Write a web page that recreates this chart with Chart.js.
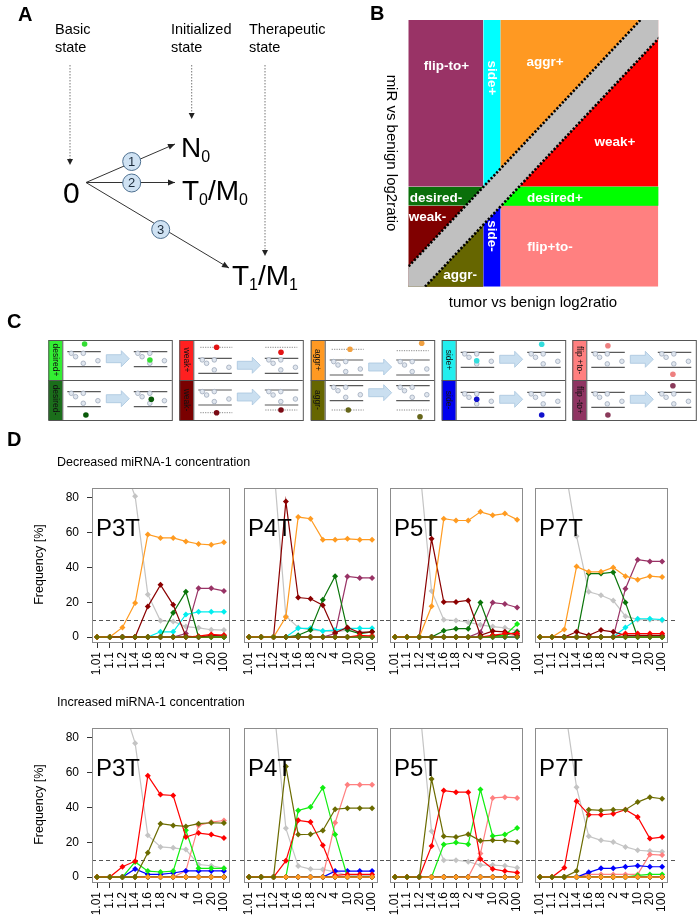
<!DOCTYPE html>
<html>
<head>
<meta charset="utf-8">
<title>miRNA-1 state transitions</title>
<script src="https://cdn.jsdelivr.net/npm/chart.js@4.4.1/dist/chart.umd.min.js"></script>
<style>
  html, body { margin: 0; padding: 0; background: #fff; }
  #page { position: relative; width: 699px; height: 923px; overflow: hidden; }
  #sketch { position: absolute; left: 0; top: 0; }
  .panel { position: absolute; }
</style>
</head>
<body>
<div id="page">
  <canvas id="sketch" width="699" height="923"></canvas>
</div>
<script>
// ---- panel D data ----
const thresholds = ['1.01', '1.1', '1.2', '1.4', '1.6', '1.8', '2', '4', '10', '20', '100'];
const freqTicks = [0, 20, 40, 60, 80];

// draw order: the first key ends up on top
const stateKeys = ['aggrMinus', 'aggrPlus', 'weakPlus', 'weakMinus', 'desPlus', 'desMinus',
                   'sidePlus', 'sideMinus', 'flipPlusToMinus', 'flipMinusToPlus', 'other'];
const stateColors = {
  aggrMinus: '#6b6b00', aggrPlus: '#ff9b21', weakPlus: '#ff0000', weakMinus: '#8b0000',
  desPlus: '#11ee11', desMinus: '#0a750a', sidePlus: '#00eeee', sideMinus: '#0000ff',
  flipPlusToMinus: '#ff8080', flipMinusToPlus: '#993366', other: '#c4c4c4'
};

// Decreased miRNA-1 concentration
const decP3T = {
  other:           [100, 100, 100, 81, 24.5, 9.3, 9, 6, 5.3, 4.2, 4],
  aggrPlus:        [0, 0, 5.5, 19.5, 59, 57, 57, 55, 53.5, 53, 54.5],
  weakMinus:       [0, 0, 0, 0, 17.5, 30, 18.5, 0.5, 0, 1, 1],
  desMinus:        [0, 0, 0, 0, 0, 0, 14, 26, 0, 0, 0],
  flipMinusToPlus: [0, 0, 0, 0, 0, 0, 0, 2, 28, 28, 26.5],
  sidePlus:        [0, 0, 0, 0, 0, 3, 3, 13, 14.5, 14.5, 14.5],
  weakPlus:        [0, 0, 0, 0, 0, 0, 0, 0, 0.5, 1.5, 1],
  desPlus:         [0, 0, 0, 0, 0, 0, 0, 0, 0, 0, 0],
  sideMinus:       [0, 0, 0, 0, 0, 0, 0, 0, 0, 0, 0],
  flipPlusToMinus: [0, 0, 0, 0, 0, 0, 0, 0, 0, 0, 0],
  aggrMinus:       [0, 0, 0, 0, 0, 0, 0, 0, 0, 0, 0]
};
const decP4T = {
  other:           [100, 100, 100, 12, 5.5, 4, 3.5, 3, 4, 3, 3],
  aggrPlus:        [0, 0, 0, 11.5, 69, 68, 56, 56, 56.5, 56, 56],
  weakMinus:       [0, 0, 0, 78, 22.7, 22, 18.3, 2.5, 5.5, 2.5, 3],
  desMinus:        [0, 0, 0, 0, 1, 4, 21.5, 35, 4, 2, 3],
  flipMinusToPlus: [0, 0, 0, 0, 0, 0, 0, 2, 34.8, 34, 34],
  sidePlus:        [0, 0, 0, 0, 5, 5, 3.5, 4, 5, 5, 5],
  weakPlus:        [0, 0, 0, 0, 0, 0, 0, 0, 0, 1, 0.5],
  desPlus:         [0, 0, 0, 0, 0, 0, 0, 0, 0, 0, 0],
  sideMinus:       [0, 0, 0, 0, 0, 0, 0, 0, 0, 0, 0],
  flipPlusToMinus: [0, 0, 0, 0, 0, 0, 0, 0, 0, 0, 1],
  aggrMinus:       [0, 0, 0, 0, 0, 0, 0, 0, 0, 0, 0]
};
const decP5T = {
  other:           [100, 100, 100, 26.5, 10, 9.5, 8.5, 7, 6, 5.3, 3.5],
  aggrPlus:        [0, 0, 0, 17.7, 68, 67, 67, 72, 70, 71, 67.5],
  weakMinus:       [0, 0, 0, 56.5, 20.2, 20.2, 21, 1, 3.4, 3, 1],
  desMinus:        [0, 0, 0, 0, 3.6, 4.8, 4.8, 19.8, 1, 1, 3],
  flipMinusToPlus: [0, 0, 0, 0, 0, 0, 0, 2.7, 19.8, 19, 17],
  sidePlus:        [0, 0, 0, 0, 0, 0, 0, 0, 0, 0, 0],
  weakPlus:        [0, 0, 0, 0, 0, 0, 0, 0, 1, 2, 2],
  desPlus:         [0, 0, 0, 0, 0, 0, 0, 0, 0, 1, 7.5],
  sideMinus:       [0, 0, 0, 0, 0, 0, 0, 0, 0, 0, 0],
  flipPlusToMinus: [0, 0, 0, 0, 0, 0, 0, 0, 0, 0, 1],
  aggrMinus:       [0, 0, 0, 0, 0, 0, 0, 0, 0, 0, 0]
};
const decP7T = {
  other:           [100, 100, 100, 58, 26, 24, 21, 12, 10, 10, 9.5],
  aggrPlus:        [0, 0, 4.4, 40.5, 37.5, 37.5, 40, 35, 33, 35, 34.5],
  weakMinus:       [0, 0, 0, 3, 1, 4, 3, 1, 1, 1, 1],
  desMinus:        [0, 0, 0, 0, 36.5, 36.5, 37.3, 19.8, 0, 0, 0],
  flipMinusToPlus: [0, 0, 0, 0, 0, 0, 0, 27.8, 44.5, 43.5, 43.5],
  sidePlus:        [0, 0, 0, 0, 0, 0, 0, 5.5, 10.5, 10.5, 10],
  weakPlus:        [0, 0, 0, 0, 0, 0, 0, 2, 2, 2, 2],
  desPlus:         [0, 0, 0, 0, 0, 0, 0, 0, 0, 0, 0],
  sideMinus:       [0, 0, 0, 0, 0, 0, 0, 0, 0, 0, 0],
  flipPlusToMinus: [0, 0, 0, 0, 0, 0, 0, 0, 0, 0, 0],
  aggrMinus:       [0, 0, 0, 0, 0, 0, 0, 0, 0, 0, 0]
};

// Increased miRNA-1 concentration
const incP3T = {
  other:           [100, 100, 100, 77, 24, 17.3, 16.8, 15.8, 7.2, 6.5, 5],
  weakPlus:        [0, 0, 5.9, 9.1, 58.3, 47.4, 46.9, 23, 25.3, 24.4, 22.5],
  aggrMinus:       [0, 0, 0, 0, 13.9, 30.7, 29.7, 29.1, 30.7, 31.2, 31],
  desPlus:         [0, 0, 0, 8.7, 3.4, 2.9, 3.4, 26.9, 5, 5, 5],
  sideMinus:       [0, 0, 0, 4.6, 1.5, 1.5, 2.3, 3.5, 3.5, 3.5, 3.5],
  flipPlusToMinus: [0, 0, 0, 0, 0, 0, 0, 3.5, 29.7, 31.6, 32.5],
  aggrPlus:        [0, 0, 0, 0, 0, 0, 0, 0, 0, 0, 0],
  weakMinus:       [0, 0, 0, 0, 0, 0, 0, 0, 0, 0, 0],
  desMinus:        [0, 0, 0, 0, 0, 0, 0, 0, 0, 0, 0],
  sidePlus:        [0, 0, 0, 0, 0, 0, 0, 0, 0, 0, 0],
  flipMinusToPlus: [0, 0, 0, 0, 0, 0, 0, 0, 0, 0, 0]
};
const incP4T = {
  other:           [100, 100, 100, 28, 6.3, 4.6, 4.4, 3, 1, 1, 1],
  weakPlus:        [0, 0, 0, 9.3, 32.6, 31.6, 18.3, 1, 1.5, 1.5, 1.5],
  aggrMinus:       [0, 0, 0, 63.6, 24.4, 24.6, 26.7, 39, 39.6, 39.6, 39.6],
  desPlus:         [0, 0, 0, 0, 38.3, 40.2, 51.4, 24.4, 0, 0, 0],
  sideMinus:       [0, 0, 0, 0, 0, 0, 0, 3.4, 3.4, 3.4, 3.4],
  flipPlusToMinus: [0, 0, 0, 0, 0, 0, 0, 31.2, 53.1, 53.1, 53.1],
  aggrPlus:        [0, 0, 0, 0, 0, 0, 0, 0, 0, 0, 0],
  weakMinus:       [0, 0, 0, 0, 0, 0, 0, 0, 0, 0, 0],
  desMinus:        [0, 0, 0, 0, 0, 0, 0, 0, 0, 0, 0],
  sidePlus:        [0, 0, 0, 0, 0, 0, 0, 0, 0, 0, 0],
  flipMinusToPlus: [0, 0, 0, 0, 0, 0, 0, 0, 0, 0, 0]
};
const incP5T = {
  other:           [100, 100, 100, 26.3, 9.7, 9.7, 8.8, 6.9, 6.9, 6.5, 5.3],
  weakPlus:        [0, 0, 0, 17.9, 49.7, 48.8, 48.8, 10.3, 4.6, 3.4, 2.5],
  aggrMinus:       [0, 0, 0, 56.4, 23.4, 23, 24.6, 20.8, 21.1, 21, 20.2],
  desPlus:         [0, 0, 0, 0, 18.7, 19.8, 18.9, 50.3, 23.6, 24.4, 28.2],
  sideMinus:       [0, 0, 0, 0, 0, 0, 0, 0, 0, 0, 0],
  flipPlusToMinus: [0, 0, 0, 0, 0, 0, 0, 13.5, 45.5, 45.9, 45.5],
  aggrPlus:        [0, 0, 0, 0, 0, 0, 0, 0, 0, 0, 0],
  weakMinus:       [0, 0, 0, 0, 0, 0, 0, 0, 0, 0, 0],
  desMinus:        [0, 0, 0, 0, 0, 0, 0, 0, 0, 0, 0],
  sidePlus:        [0, 0, 0, 0, 0, 0, 0, 0, 0, 0, 0],
  flipMinusToPlus: [0, 0, 0, 0, 0, 0, 0, 0, 0, 0, 0]
};
const incP7T = {
  other:           [100, 100, 100, 51.6, 23.4, 21.1, 20.2, 17.3, 15.4, 14.9, 14.5],
  weakPlus:        [0, 0, 5.3, 43.6, 35.8, 35.8, 36.4, 38.7, 34.5, 22.1, 23],
  aggrMinus:       [0, 0, 0, 3.4, 38.7, 38.3, 38.7, 38.7, 43.1, 45.9, 45],
  desPlus:         [0, 0, 0, 0, 0, 0, 0, 0, 1, 1.5, 1.5],
  sideMinus:       [0, 0, 0, 0, 2.7, 5, 5, 5.9, 6.5, 5.9, 5.9],
  flipPlusToMinus: [0, 0, 0, 0, 1.5, 1.5, 1.5, 1.5, 1.5, 13, 12.6],
  aggrPlus:        [0, 0, 0, 0, 0, 0, 0, 0, 0, 0, 0],
  weakMinus:       [0, 0, 0, 0, 0, 0, 0, 0, 0, 0, 0],
  desMinus:        [0, 0, 0, 0, 0, 0, 0, 0, 0, 0, 0],
  sidePlus:        [0, 0, 0, 0, 0, 0, 0, 0, 0, 0, 0],
  flipMinusToPlus: [0, 0, 0, 0, 0, 0, 0, 0, 0, 0, 0]
};

const FONT = '"Liberation Sans", Arial, sans-serif';
const page = document.getElementById('page');
const sketch = document.getElementById('sketch');
const ctx = sketch.getContext('2d');

function text(s, x, y, size, o = {}) {
  ctx.save();
  ctx.font = (o.bold ? 'bold ' : '') + size + 'px ' + FONT;
  ctx.fillStyle = o.color || '#000';
  ctx.textAlign = o.align || 'left';
  ctx.textBaseline = o.base || 'alphabetic';
  ctx.translate(x, y);
  if (o.rot) ctx.rotate(o.rot);
  ctx.fillText(s, 0, 0);
  ctx.restore();
}

function arrowHead(x1, y1, x2, y2, len, half, color) {
  const a = Math.atan2(y2 - y1, x2 - x1);
  ctx.save();
  ctx.fillStyle = color;
  ctx.translate(x2, y2);
  ctx.rotate(a);
  ctx.beginPath();
  ctx.moveTo(0, 0);
  ctx.lineTo(-len, -half);
  ctx.lineTo(-len, half);
  ctx.closePath();
  ctx.fill();
  ctx.restore();
}

// ---- panel A: state scheme ----
function drawA() {
  text('A', 18, 21, 20, { bold: true });
  text('Basic', 55, 33.5, 14.5);
  text('state', 55, 51.5, 14.5);
  text('Initialized', 171, 33.5, 14.5);
  text('state', 171, 51.5, 14.5);
  text('Therapeutic', 249, 33.5, 14.5);
  text('state', 249, 51.5, 14.5);

  // dotted pointers from the state names
  [[70, 65, 165], [191.7, 65, 119], [265, 65, 256]].forEach(([x, y0, y1]) => {
    ctx.save();
    ctx.strokeStyle = '#777';
    ctx.lineWidth = 1;
    ctx.setLineDash([1.5, 1.5]);
    ctx.beginPath();
    ctx.moveTo(x, y0);
    ctx.lineTo(x, y1 - 4);
    ctx.stroke();
    ctx.restore();
    arrowHead(x, y0, x, y1, 6, 3, '#222');
  });

  text('0', 63, 203, 30);

  const from = [86, 182.5];
  const ends = [[175, 144], [175, 182.5], [229, 268]];
  ends.forEach(([x, y]) => {
    ctx.save();
    ctx.strokeStyle = '#333';
    ctx.lineWidth = 1;
    ctx.beginPath();
    ctx.moveTo(from[0], from[1]);
    ctx.lineTo(x, y);
    ctx.stroke();
    ctx.restore();
    arrowHead(from[0], from[1], x, y, 7, 3, '#222');
  });

  [[131.7, 161.5, '1'], [131.7, 183, '2'], [160.7, 229.5, '3']].forEach(([x, y, n]) => {
    ctx.save();
    ctx.fillStyle = '#cfe2f3';
    ctx.strokeStyle = '#4d6f8f';
    ctx.lineWidth = 1;
    ctx.beginPath();
    ctx.arc(x, y, 9, 0, Math.PI * 2);
    ctx.fill();
    ctx.stroke();
    ctx.restore();
    text(n, x, y + 0.5, 13, { align: 'center', base: 'middle', color: '#1b2a3a' });
  });

  // state labels with subscripts
  const sub = (parts, x, y) => {
    let cx = x;
    parts.forEach(([s, small]) => {
      ctx.font = (small ? 16 : 28) + 'px ' + FONT;
      const w = ctx.measureText(s).width;
      text(s, cx, small ? y + 5 : y, small ? 16 : 28);
      cx += w;
    });
  };
  sub([['N'], ['0', 1]], 181, 156.5);
  sub([['T'], ['0', 1], ['/M'], ['0', 1]], 182, 200);
  sub([['T'], ['1', 1], ['/M'], ['1', 1]], 232, 285);
}

// ---- panel B: region map ----
function drawB() {
  const L = 408.3, T = 20, R = 658.3, B = 286.7;
  const xa = 483.3, xb = 500.7, ya = 186.7, yb = 205.7;
  const k = 1.063;
  const up = x => 266.7 - k * (x - L);
  const lo = x => 304.5 - k * (x - L);
  const mid = x => (up(x) + lo(x)) / 2;
  const ea = L - 60, eb = R + 60;

  text('B', 370, 20, 20, { bold: true });

  function block(color, x0, y0, x1, y1, side) {
    ctx.save();
    ctx.beginPath();
    ctx.rect(x0, y0, x1 - x0, y1 - y0);
    ctx.clip();
    ctx.fillStyle = color;
    if (!side) {
      ctx.fillRect(x0, y0, x1 - x0, y1 - y0);
    } else {
      const yy = side === 'above' ? T - 80 : B + 80;
      ctx.beginPath();
      ctx.moveTo(ea, mid(ea));
      ctx.lineTo(eb, mid(eb));
      ctx.lineTo(eb, yy);
      ctx.lineTo(ea, yy);
      ctx.closePath();
      ctx.fill();
    }
    ctx.restore();
  }

  block('#993366', L, T, xa, ya);
  block('#00ffff', xa, T, xb, ya);
  block('#ff0000', xb, T, R, ya);
  block('#ff9922', xb, T, R, ya, 'above');
  block('#0a6f0a', L, ya, R, yb);
  block('#00ff00', L, ya, R, yb, 'below');
  block('#800000', L, yb, xa, B);
  block('#666600', L, yb, xa, B, 'below');
  block('#0000ff', xa, yb, xb, B);
  block('#ff8080', xb, yb, R, B);

  ctx.save();
  ctx.beginPath();
  ctx.rect(L, T, R - L, B - T);
  ctx.clip();
  ctx.fillStyle = '#c0c0c0';
  ctx.beginPath();
  ctx.moveTo(ea, up(ea));
  ctx.lineTo(eb, up(eb));
  ctx.lineTo(eb, lo(eb));
  ctx.lineTo(ea, lo(ea));
  ctx.closePath();
  ctx.fill();
  ctx.strokeStyle = '#000';
  ctx.lineWidth = 2.6;
  ctx.setLineDash([2.2, 1.8]);
  [up, lo].forEach(f => {
    ctx.beginPath();
    ctx.moveTo(ea, f(ea));
    ctx.lineTo(eb, f(eb));
    ctx.stroke();
  });
  ctx.restore();

  const w = { bold: true, color: '#fff', align: 'center', base: 'middle' };
  text('flip-to+', 446.5, 66.5, 13.5, w);
  text('aggr+', 545, 62, 13.5, w);
  text('weak+', 615, 142, 13.5, w);
  text('desired-', 436, 198, 13.5, w);
  text('desired+', 555, 198, 13.5, w);
  text('weak-', 427.5, 217, 13.5, w);
  text('flip+to-', 550, 247, 13.5, w);
  text('aggr-', 460, 275, 13.5, w);
  text('side+', 492, 78, 13.5, Object.assign({}, w, { rot: Math.PI / 2 }));
  text('side-', 492, 236, 13.5, Object.assign({}, w, { rot: Math.PI / 2 }));

  text('miR vs benign log2ratio', 391.5, 153, 15, { align: 'center', base: 'middle', rot: Math.PI / 2 });
  text('tumor vs benign log2ratio', 533, 307, 15, { align: 'center' });
}

// ---- panel C: transition sketches ----
const transitionBoxes = [
  { x: 48.3, names: ['desired+', 'desired-'], strip: ['#33ee33', '#1b6e1b'], dot: ['#33dd33', '#0a5a0a'],
    rows: [{ u: 11.7, dl: [22.3, 4], dr: [87.6, 20] },
           { u: 11.7, dl: [23.6, 35], dr: [89, 19.3] }] },
  { x: 179.3, names: ['weak+', 'weak-'], strip: ['#ff2020', '#7a0000'], dot: ['#e31414', '#7a0a14'],
    rows: [{ u: 18.3, dl: [23.3, 7.3], dr: [87.7, 12.3], lineL: 7.3, lineR: 7.3 },
           { u: 10, dl: [23.3, 32.7], dr: [87.7, 30], lineL: 32.7, lineR: 30 }] },
  { x: 310.7, names: ['aggr+', 'aggr-'], strip: ['#ff9922', '#666600'], dot: ['#f0a040', '#66661a'],
    rows: [{ u: 20, dl: [25.3, 9.3], dr: [97, 3.3], lineL: 9.3, lineR: 10.7 },
           { u: 5.7, dl: [23.6, 30], dr: [95.3, 36.7], lineL: 30, lineR: 30 }] },
  { x: 441.7, names: ['side+', 'side-'], strip: ['#22eeee', '#0000ee'], dot: ['#33dddd', '#1111cc'],
    rows: [{ u: 12.3, dl: [21, 20.7], dr: [86, 4.3] },
           { u: 12.3, dl: [21, 19.3], dr: [86, 35] }] },
  { x: 572.3, names: ['flip +to-', 'flip -to+'], strip: ['#ff7f7f', '#8f3462'], dot: ['#ee8080', '#8a3a5a'],
    rows: [{ u: 12.3, dl: [21.6, 5.7], dr: [86.6, 34.3] },
           { u: 12.3, dl: [21.6, 35], dr: [86.6, 5.7] }] }
];

function miniState(ox, uy) {
  ctx.save();
  ctx.strokeStyle = '#5a5a5a';
  ctx.lineWidth = 1.2;
  ctx.beginPath();
  ctx.moveTo(ox, uy); ctx.lineTo(ox + 33.5, uy);
  ctx.moveTo(ox, uy + 15); ctx.lineTo(ox + 33.5, uy + 15);
  ctx.stroke();
  ctx.fillStyle = '#e0e6ee';
  ctx.strokeStyle = '#9eaabb';
  ctx.lineWidth = 0.8;
  [[4, 1.6], [8.3, 5], [16, 1.6], [16, 11.6], [30.6, 9]].forEach(([dx, dy]) => {
    ctx.beginPath();
    ctx.arc(ox + dx, uy + dy, 2.3, 0, Math.PI * 2);
    ctx.fill();
    ctx.stroke();
  });
  ctx.restore();
}

function dottedRef(ox, y) {
  ctx.save();
  ctx.strokeStyle = '#888';
  ctx.lineWidth = 1;
  ctx.setLineDash([1.2, 1.2]);
  ctx.beginPath();
  ctx.moveTo(ox, y);
  ctx.lineTo(ox + 32, y);
  ctx.stroke();
  ctx.restore();
}

function blockArrow(x0, x1, cy) {
  ctx.save();
  ctx.fillStyle = '#cadff0';
  ctx.strokeStyle = '#a8c5de';
  ctx.lineWidth = 0.8;
  ctx.beginPath();
  ctx.moveTo(x0, cy - 4);
  ctx.lineTo(x1 - 8, cy - 4);
  ctx.lineTo(x1 - 8, cy - 8);
  ctx.lineTo(x1, cy);
  ctx.lineTo(x1 - 8, cy + 8);
  ctx.lineTo(x1 - 8, cy + 4);
  ctx.lineTo(x0, cy + 4);
  ctx.closePath();
  ctx.fill();
  ctx.stroke();
  ctx.restore();
}

function dot(x, y, color) {
  ctx.save();
  ctx.fillStyle = color;
  ctx.beginPath();
  ctx.arc(x, y, 2.8, 0, Math.PI * 2);
  ctx.fill();
  ctx.restore();
}

function drawC() {
  text('C', 7, 328, 20, { bold: true });
  const top = 340, rowH = 40, boxW = 123.5, stripW = 14;
  transitionBoxes.forEach(b => {
    const sx = b.x + stripW;
    b.rows.forEach((r, i) => {
      const ty = top + i * rowH;
      ctx.fillStyle = b.strip[i];
      ctx.fillRect(b.x, ty, stripW, rowH);
      text(b.names[i], b.x + stripW / 2, ty + rowH / 2, 8.5,
           { align: 'center', base: 'middle', rot: Math.PI / 2, color: '#111' });
      if (r.lineL != null) dottedRef(sx + 7, ty + r.lineL);
      if (r.lineR != null) dottedRef(sx + 72, ty + r.lineR);
      miniState(sx + 5, ty + r.u);
      miniState(sx + 71.5, ty + r.u);
      blockArrow(sx + 44, sx + 67, ty + r.u + 7);
      dot(sx + r.dl[0], ty + r.dl[1], b.dot[i]);
      dot(sx + r.dr[0], ty + r.dr[1], b.dot[i]);
    });
    ctx.save();
    ctx.strokeStyle = '#555';
    ctx.lineWidth = 1;
    ctx.strokeRect(b.x + 0.5, top + 0.5, boxW, rowH * 2);
    ctx.beginPath();
    ctx.moveTo(b.x, top + rowH + 0.5);
    ctx.lineTo(b.x + boxW, top + rowH + 0.5);
    ctx.moveTo(sx + 0.5, top);
    ctx.lineTo(sx + 0.5, top + rowH * 2);
    ctx.stroke();
    ctx.restore();
  });
}

// ---- panel D: frequency curves (Chart.js) ----
const colLeft = [92, 236, 381.5, 527.3];
const colWidth = [136.5, 140.5, 139.5, 139.7];
const boxH = 155;
const rowsD = [
  { title: 'Decreased miRNA-1 concentration', top: 487,
    panels: [['P3T', decP3T], ['P4T', decP4T], ['P5T', decP5T], ['P7T', decP7T]] },
  { title: 'Increased miRNA-1 concentration', top: 727,
    panels: [['P3T', incP3T], ['P4T', incP4T], ['P5T', incP5T], ['P7T', incP7T]] }
];

const panelDecor = {
  id: 'panelDecor',
  beforeDatasetsDraw(chart, args, opts) {
    const { ctx: c, chartArea: a, scales: { y } } = chart;
    const yy = Math.round(y.getPixelForValue(10)) + 0.5;
    c.save();
    c.strokeStyle = '#555';
    c.lineWidth = 1;
    c.setLineDash([4, 3]);
    c.beginPath();
    c.moveTo(opts.first ? a.left : a.left - 4, yy);
    c.lineTo(chart.width, yy);
    c.stroke();
    c.restore();
  },
  afterDatasetsDraw(chart, args, opts) {
    const { ctx: c, chartArea: a, scales: { y } } = chart;
    c.save();
    c.strokeStyle = '#8c8c8c';
    c.lineWidth = 1;
    c.strokeRect(Math.round(a.left) + 0.5, Math.round(a.top) + 0.5,
                 Math.round(a.right - a.left), Math.round(a.bottom - a.top));
    c.fillStyle = '#000';
    c.font = '24px ' + FONT;
    c.fillText(opts.label, a.left + 4, y.getPixelForValue(58));
    c.restore();
  }
};

function addPanel(label, series, left, top, width, first) {
  const padL = first ? 34 : 8, padR = 8, padT = 2, axisH = 46;
  const W = Math.round(padL + width + padR), H = padT + boxH + axisH;
  const div = document.createElement('div');
  div.className = 'panel';
  div.style.left = (left - padL) + 'px';
  div.style.top = (top - padT) + 'px';
  const cv = document.createElement('canvas');
  cv.width = W;
  cv.height = H;
  cv.style.width = W + 'px';
  cv.style.height = H + 'px';
  div.appendChild(cv);
  page.appendChild(div);

  const datasets = stateKeys.map(key => ({
    label: key,
    data: series[key].map((v, i) => ({ x: i, y: v })),
    borderColor: stateColors[key],
    backgroundColor: stateColors[key],
    borderWidth: 1.2,
    pointStyle: 'rectRot',
    pointRadius: 3,
    pointBorderWidth: 0,
    pointHoverRadius: 3,
    tension: 0
  }));

  new Chart(cv, {
    type: 'line',
    data: { datasets },
    plugins: [panelDecor],
    options: {
      responsive: false,
      animation: false,
      devicePixelRatio: 1,
      events: [],
      layout: { padding: { top: padT, right: padR, left: first ? 0 : padL, bottom: 0 } },
      plugins: {
        legend: { display: false },
        tooltip: { enabled: false },
        panelDecor: { label, first }
      },
      scales: {
        x: {
          type: 'linear',
          min: -0.4,
          max: 10.4,
          afterBuildTicks: s => { s.ticks = thresholds.map((_, i) => ({ value: i })); },
          afterFit: s => { s.height = axisH; s.paddingLeft = 0; s.paddingRight = 0; },
          ticks: {
            autoSkip: false, minRotation: 90, maxRotation: 90, padding: 4,
            color: '#000', font: { family: FONT, size: 12 },
            callback: v => thresholds[v]
          },
          grid: { drawOnChartArea: false, tickLength: 6, color: '#333' },
          border: { display: false }
        },
        y: {
          display: first,
          min: -2.86,
          max: 85.7,
          afterBuildTicks: s => { s.ticks = freqTicks.map(v => ({ value: v })); },
          afterFit: s => { s.width = padL; s.paddingTop = 0; s.paddingBottom = 0; },
          ticks: { padding: 8, color: '#000', font: { family: FONT, size: 12 } },
          grid: { drawOnChartArea: false, tickLength: 5, color: '#333' },
          border: { display: false }
        }
      }
    }
  });
}

function drawD() {
  text('D', 7, 446, 20, { bold: true });
  rowsD.forEach(row => {
    text(row.title, 57, row.top - 21, 12.5);
    text('Frequency [%]', 40, row.top + boxH / 2, 12.5,
         { align: 'center', base: 'middle', rot: -Math.PI / 2 });
    row.panels.forEach(([label, series], c) => {
      addPanel(label, series, colLeft[c], row.top, colWidth[c], c === 0);
    });
  });
}

drawA();
drawB();
drawC();
drawD();
</script>
</body>
</html>
